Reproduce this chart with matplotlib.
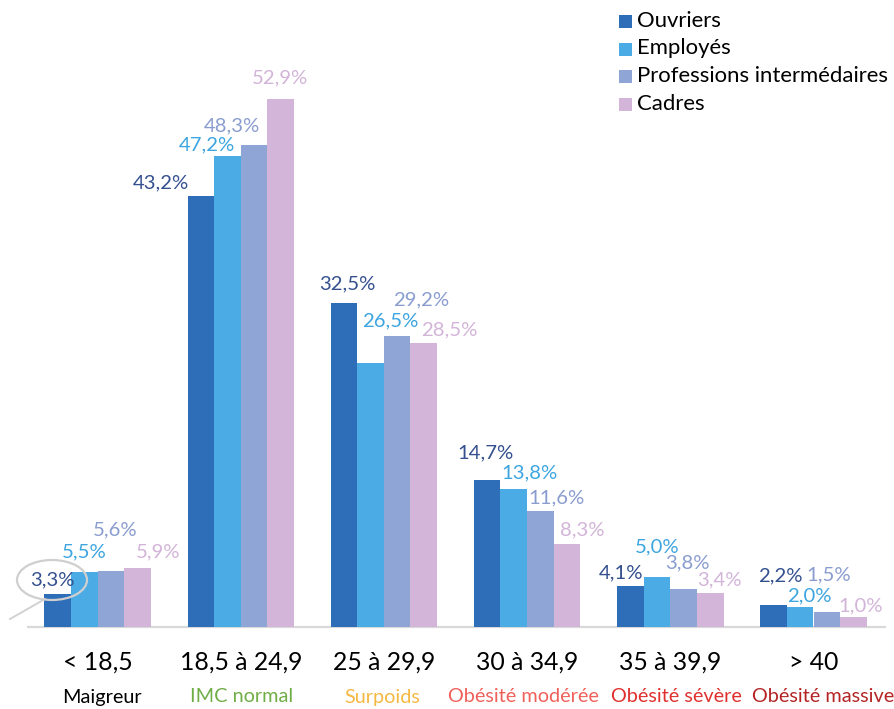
import matplotlib
matplotlib.use("Agg")
import matplotlib.pyplot as plt
from matplotlib.patches import Ellipse, Rectangle
import numpy as np

plt.rcParams['font.family'] = ['Lato', 'DejaVu Sans']

# Data
categories = ["< 18,5", "18,5 à 24,9", "25 à 29,9", "30 à 34,9", "35 à 39,9", "> 40"]
classes = ["Maigreur", "IMC normal", "Surpoids", "Obésité modérée", "Obésité sévère", "Obésité massive"]
series_names = ["Ouvriers", "Employés", "Professions intermédaires", "Cadres"]
ouvriers = [3.3, 43.2, 32.5, 14.7, 4.1, 2.2]
employes = [5.5, 47.2, 26.5, 13.8, 5.0, 2.0]
prof_inter = [5.6, 48.3, 29.2, 11.6, 3.8, 1.5]
cadres = [5.9, 52.9, 28.5, 8.3, 3.4, 1.0]
series = [ouvriers, employes, prof_inter, cadres]

# Styling
bar_colors = ["#2E6DB8", "#4BABE5", "#8FA5D6", "#D2B5D8"]
label_colors = ["#34508F", "#3DA5E0", "#8A9DD0", "#D3B4D9"]
class_colors = ["#000000", "#70AD47", "#F4B942", "#F0605A", "#E0302E", "#B42424"]
class_shift_px = [4, 1, -2, -4, 6, 10]

# Per-label offsets (pixels) from the top centre of each bar
label_offsets = [
    [(-5, 14), (-40, 13), (3, 19), (-2, 27), (-9, 13), (7, 29)],
    [(0, 20), (-20, 11), (20, 42), (16, 16), (0, 30), (9, 11)],
    [(4, 41), (-22, 19), (24, 36), (16, 13), (4, 26), (2, 37)],
    [(21, 16), (-1, 21), (25, 13), (15, 14), (9, 13), (7, 11)],
]

W, H, DPI = 895, 709, 100
fig = plt.figure(figsize=(W / DPI, H / DPI), dpi=DPI)
ax = fig.add_axes([0, 0, 1, 1])

px_per_unit_x = 143.2
px_per_pct = 9.98
x0_px, base_px = 97.5, 627
ax.set_xlim(-x0_px / px_per_unit_x, (W - x0_px) / px_per_unit_x)
ax.set_ylim(-(H - base_px) / px_per_pct, base_px / px_per_pct)
ax.axis("off")

x = np.arange(len(categories))
bw = 26.6 / px_per_unit_x
for k, (vals, col) in enumerate(zip(series, bar_colors)):
    xs = x + (k - 1.5) * bw
    ax.bar(xs, vals, width=bw, color=col, edgecolor="none", label=series_names[k], zorder=2)
    for i, (xi, v) in enumerate(zip(xs, vals)):
        dx, dy = label_offsets[k][i]
        ax.annotate(f"{v:.1f}".replace(".", ",") + "%", xy=(xi, v),
                    xytext=(dx, dy), textcoords="offset pixels",
                    ha="center", va="center", fontsize=14.6,
                    color=label_colors[k], zorder=4)

# Baseline
ax.plot([(27 - x0_px) / px_per_unit_x, (886 - x0_px) / px_per_unit_x], [0, 0],
        color="#D9D9D9", lw=1.6, zorder=1, solid_capstyle="butt")

# Category and class labels
for i, (cat, cls) in enumerate(zip(categories, classes)):
    ax.text(x[i], -(662 - base_px) / px_per_pct, cat, ha="center", va="center",
            fontsize=17.8, color="#000000")
    ax.text(x[i] + class_shift_px[i] / px_per_unit_x, -(697 - base_px) / px_per_pct,
            cls, ha="center", va="center", fontsize=14.3, color=class_colors[i])

# Callout ellipse around the first label
ex = (52 - x0_px) / px_per_unit_x
ey = (base_px - 580) / px_per_pct
ax.add_patch(Ellipse((ex, ey), 70 / px_per_unit_x, 40 / px_per_pct, fill=False,
                     edgecolor="#CFCFCF", lw=1.6, zorder=5))
ax.plot([(45 - x0_px) / px_per_unit_x, (10 - x0_px) / px_per_unit_x],
        [(base_px - 599) / px_per_pct, (base_px - 619) / px_per_pct],
        color="#CFCFCF", lw=1.3, zorder=5)

# Legend
for k, (name, col) in enumerate(zip(series_names, bar_colors)):
    yc = 21 + k * 27.5
    fig.patches.append(Rectangle((619 / W, 1 - (yc + 7) / H), 13 / W, 13 / H,
                                 transform=fig.transFigure, facecolor=col,
                                 edgecolor="none"))
    fig.text(637 / W, 1 - yc / H, name, ha="left", va="center", fontsize=15.9,
             color="#000000")

fig.savefig("out.png", dpi=DPI)
